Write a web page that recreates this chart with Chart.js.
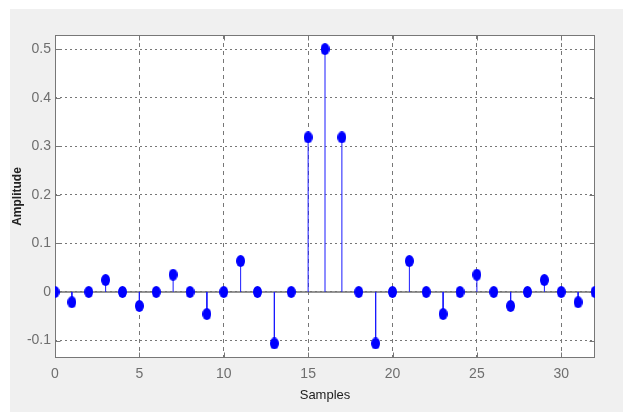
<!DOCTYPE html>
<html>
<head>
<meta charset="utf-8">
<script src="https://cdn.jsdelivr.net/npm/chart.js@4"></script>
<style>
  html, body { margin: 0; padding: 0; background: #ffffff; }
  canvas { display: block; }
</style>
</head>
<body>
<canvas id="c" width="623" height="412"></canvas>
<script>
// Filter impulse response, one value per sample index
const samples = [0,1,2,3,4,5,6,7,8,9,10,11,12,13,14,15,16,17,18,19,20,21,22,23,24,25,26,27,28,29,30,31,32];
const amplitude = [0, -0.0212, 0, 0.0245, 0, -0.0289, 0, 0.0354, 0, -0.0455, 0, 0.0637, 0, -0.1061, 0, 0.3183,
                   0.5, 0.3183, 0, -0.1061, 0, 0.0637, 0, -0.0455, 0, 0.0354, 0, -0.0289, 0, 0.0245, 0, -0.0212, 0];
const xRange = [0, 32];
const yRange = [-0.136, 0.529];
const xStep = 5;
const yStep = 0.1;

const FONT = "'Liberation Sans Narrow', 'Liberation Sans', Arial, sans-serif";
const AXIS_GRAY = '#777777';

// Filled oval marker used for the stem heads
function ovalMarker(w, h, color) {
  const cv = document.createElement('canvas');
  cv.width = w; cv.height = h;
  const ctx = cv.getContext('2d');
  ctx.fillStyle = color;
  ctx.beginPath();
  ctx.ellipse(w / 2, h / 2, w / 2, h / 2, 0, 0, Math.PI * 2);
  ctx.fill();
  return cv;
}
const marker = ovalMarker(9, 12, '#0000ff');

// Stem segments: from the baseline up/down to each value, separated by gaps
const stemData = [];
samples.forEach((s, i) => {
  stemData.push({ x: s, y: 0 });
  stemData.push({ x: s, y: amplitude[i] });
  stemData.push({ x: s, y: null });
});
const headData = samples.map((s, i) => ({ x: s, y: amplitude[i] }));
const baseData = [{ x: xRange[0], y: 0 }, { x: xRange[1], y: 0 }];

// Window panel, white plot area, frame and inward tick marks
const framePlugin = {
  id: 'frame',
  beforeDraw(chart) {
    const { ctx, chartArea: a } = chart;
    ctx.save();
    ctx.fillStyle = '#ffffff';
    ctx.fillRect(0, 0, chart.width, chart.height);
    ctx.fillStyle = '#f0f0f0';
    ctx.fillRect(10, 9, chart.width - 10, chart.height - 9);
    ctx.fillStyle = '#ffffff';
    ctx.fillRect(a.left, a.top, a.right - a.left, a.bottom - a.top);
    ctx.restore();
  },
  beforeDatasetsDraw(chart) {
    const { ctx, chartArea: a, scales } = chart;
    ctx.save();
    ctx.strokeStyle = AXIS_GRAY;
    ctx.lineWidth = 1;
    const L = Math.round(a.left) + 0.5, R = Math.round(a.right) - 0.5;
    const T = Math.round(a.top) + 0.5, B = Math.round(a.bottom) - 0.5;
    ctx.strokeRect(L, T, R - L, B - T);
    ctx.beginPath();
    scales.x.ticks.forEach(t => {
      const px = Math.round(scales.x.getPixelForValue(t.value)) + 0.5;
      ctx.moveTo(px, B); ctx.lineTo(px, B - 5);
      ctx.moveTo(px, T); ctx.lineTo(px, T + 5);
    });
    scales.y.ticks.forEach(t => {
      const py = Math.round(scales.y.getPixelForValue(t.value)) + 0.5;
      ctx.moveTo(L, py); ctx.lineTo(L + 5, py);
      ctx.moveTo(R, py); ctx.lineTo(R - 5, py);
    });
    ctx.stroke();
    ctx.restore();
  }
};

new Chart(document.getElementById('c'), {
  type: 'scatter',
  data: {
    datasets: [
      {
        label: 'heads',
        data: headData,
        showLine: false,
        pointStyle: marker,
        pointRadius: 5,
        order: 0
      },
      {
        label: 'stems',
        type: 'line',
        data: stemData,
        showLine: true,
        spanGaps: false,
        borderColor: '#1a1aff',
        borderWidth: 1,
        pointRadius: 0,
        order: 1
      },
      {
        label: 'baseline',
        type: 'line',
        data: baseData,
        borderColor: '#707070',
        borderWidth: 1.6,
        pointRadius: 0,
        order: 2
      }
    ]
  },
  options: {
    responsive: false,
    devicePixelRatio: 1,
    animation: false,
    events: [],
    layout: { padding: { left: 10, top: 35, right: 28, bottom: 0 } },
    plugins: { legend: { display: false }, tooltip: { enabled: false } },
    scales: {
      x: {
        type: 'linear',
        min: xRange[0],
        max: xRange[1],
        afterFit(scale) { scale.height = 54; },
        border: { display: false, dash: [4, 4] },
        grid: { color: AXIS_GRAY, lineWidth: 1, drawTicks: false },
        ticks: {
          stepSize: xStep,
          includeBounds: false,
          padding: 8,
          color: '#6e6e6e',
          font: { family: FONT, size: 14 },
          maxRotation: 0
        },
        title: {
          display: true,
          text: 'Samples',
          color: '#222222',
          font: { family: FONT, size: 13 },
          padding: { top: 0, bottom: 9 }
        }
      },
      y: {
        type: 'linear',
        min: yRange[0],
        max: yRange[1],
        afterFit(scale) { scale.width = 45; },
        border: { display: false, dash: [2, 3] },
        grid: { color: AXIS_GRAY, lineWidth: 1, drawTicks: false },
        ticks: {
          stepSize: yStep,
          includeBounds: false,
          padding: 4,
          color: '#6e6e6e',
          font: { family: FONT, size: 14 }
        },
        title: {
          display: true,
          text: 'Amplitude',
          color: '#222222',
          font: { family: FONT, size: 12, weight: 'bold' },
          padding: { top: 0, bottom: 0 }
        }
      }
    }
  },
  plugins: [framePlugin]
});
</script>
</body>
</html>
